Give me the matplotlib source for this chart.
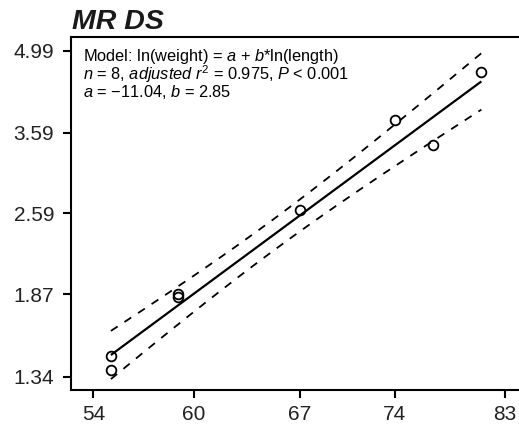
import numpy as np
import matplotlib
matplotlib.use("Agg")
import matplotlib.pyplot as plt
from matplotlib.ticker import FixedLocator, FixedFormatter, NullLocator

plt.rcParams['font.family'] = ['Liberation Sans', 'DejaVu Sans']
plt.rcParams['mathtext.fontset'] = 'custom'
plt.rcParams['mathtext.rm'] = 'Liberation Sans'
plt.rcParams['mathtext.it'] = 'Liberation Sans:italic'
plt.rcParams['mathtext.bf'] = 'Liberation Sans:bold'

# ---- data ----
length = [55, 55, 59, 59, 67, 74, 77, 81]
weight = [1.46, 1.38, 1.87, 1.85, 2.63, 3.78, 3.41, 4.58]
coef_a = -11.04
coef_b = 2.85
t_975_df6 = 2.447
x_ticks = [54, 60, 67, 74, 83]
x_tick_labels = ["54", "60", "67", "74", "83"]
y_ticks = [1.34, 1.87, 2.59, 3.59, 4.99]
y_tick_labels = ["1.34", "1.87", "2.59", "3.59", "4.99"]
title = "MR DS"
model_lines = [
    r"Model: ln(weight) = $a$ + $b$*ln(length)",
    r"$n$ = 8, $\mathit{adjusted}$ $r^2$ = 0.975, $P$ < 0.001",
    r"$a$ = −11.04, $b$ = 2.85",
]

W, H = 519, 429
fig = plt.figure(figsize=(W / 100, H / 100), dpi=100)
left, right, bottom, top = 70.7, 519, 390, 37
ax = fig.add_axes([left / W, 1 - bottom / H, (right - left) / W, (bottom - top) / H])
ax.set_xscale('log')
ax.set_yscale('log')
ax.set_xlim(52.74, 84.25)
ax.set_ylim(1.271, 5.277)

lx = np.log(np.array(length, dtype=float))
ly = np.log(np.array(weight, dtype=float))
n = len(lx)
resid = ly - (coef_a + coef_b * lx)
s = np.sqrt(np.sum(resid ** 2) / (n - 2))
mx = lx.mean()
sxx = np.sum((lx - mx) ** 2)
gx = np.linspace(lx.min(), lx.max(), 200)
gfit = coef_a + coef_b * gx
half = t_975_df6 * s * np.sqrt(1 / n + (gx - mx) ** 2 / sxx)

ax.plot(np.exp(gx), np.exp(gfit), color='black', lw=1.6, solid_capstyle='butt')
ax.plot(np.exp(gx), np.exp(gfit + half), color='black', lw=1.3, dashes=(4.5, 4.5))
ax.plot(np.exp(gx), np.exp(gfit - half), color='black', lw=1.3, dashes=(4.5, 4.5))
ax.plot(length, weight, linestyle='none', marker='o', ms=7, mfc='none',
        mec='black', mew=1.3)

ax.xaxis.set_major_locator(FixedLocator(x_ticks))
ax.xaxis.set_major_formatter(FixedFormatter(x_tick_labels))
ax.yaxis.set_major_locator(FixedLocator(y_ticks))
ax.yaxis.set_major_formatter(FixedFormatter(y_tick_labels))
ax.xaxis.set_minor_locator(NullLocator())
ax.yaxis.set_minor_locator(NullLocator())
ax.tick_params(which='major', length=6, width=1.5, labelsize=15,
               color='black', labelcolor='#222222')
ax.tick_params(axis='y', pad=6)
ax.tick_params(axis='x', pad=5)
for sp in ['left', 'bottom', 'top']:
    ax.spines[sp].set_linewidth(1.5)
ax.spines['right'].set_visible(False)

fig.text(83 / W, 1 - 47 / H, "\n".join(model_lines), fontsize=11.8,
         va='top', ha='left', linespacing=0.85)

fig.text(72 / W, 1 - 29 / H, title, fontsize=20.5, fontweight='bold', fontstyle='italic',
         va='baseline', ha='left', color='#1a1a1a')

fig.savefig("out.png", dpi=100)
